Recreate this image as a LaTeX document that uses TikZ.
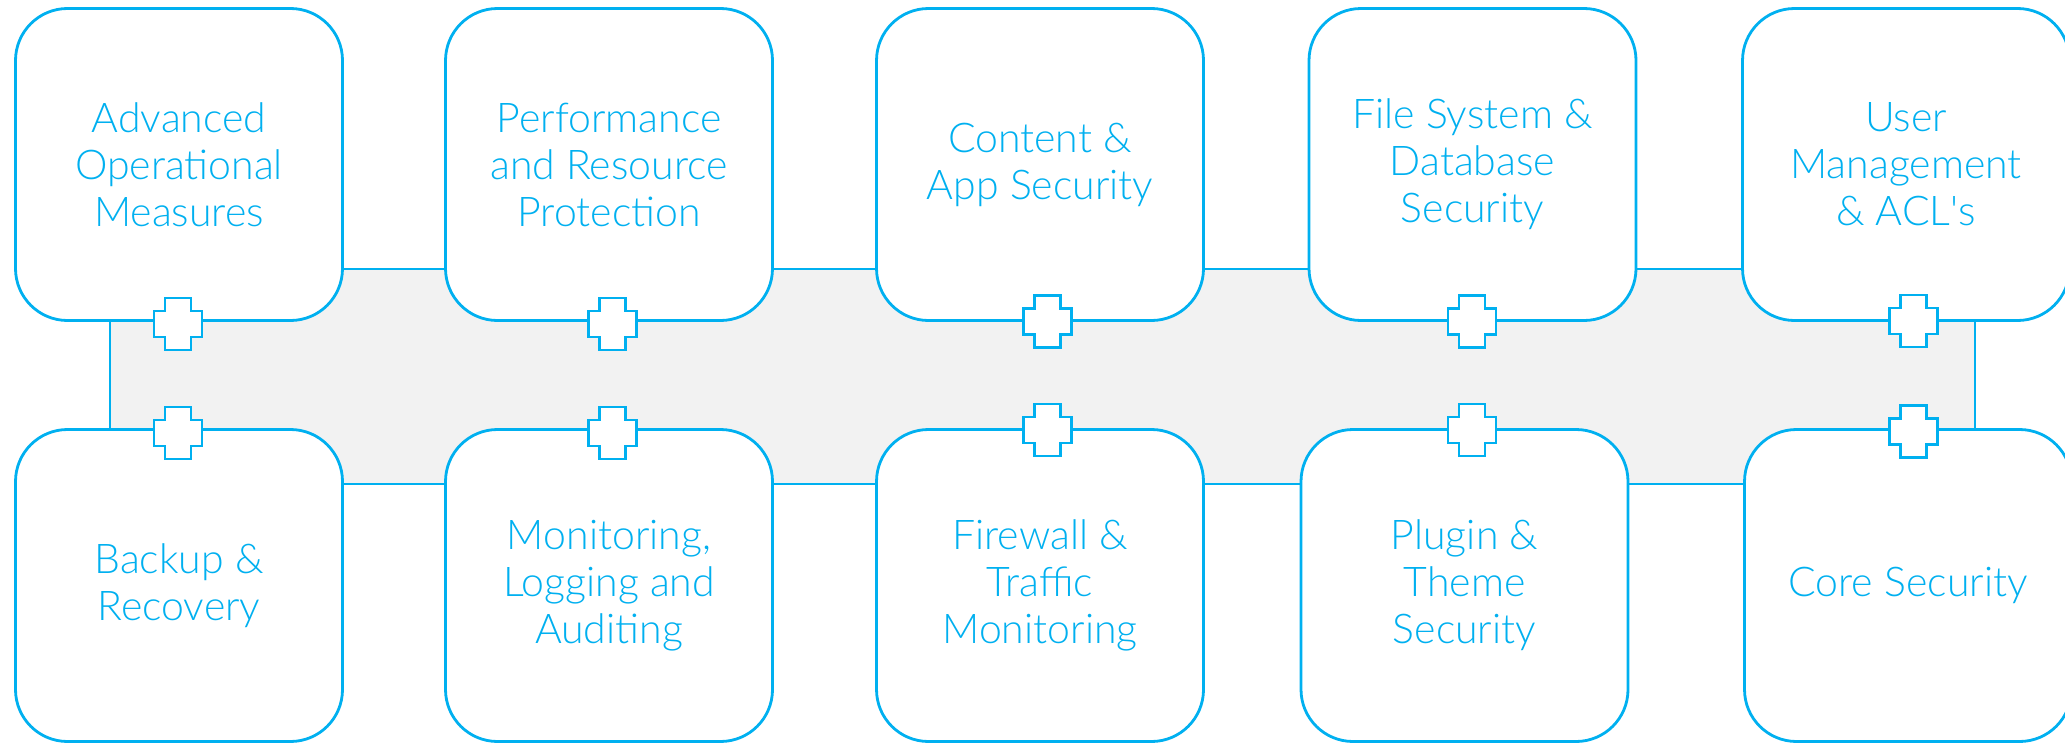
\documentclass[tikz,border=0pt]{standalone}
\usepackage{fontspec}
\setmainfont{Lato}[UprightFont=* Light]
\definecolor{guard}{RGB}{0,176,240}
\definecolor{band-gray}{RGB}{242,242,242}
\usetikzlibrary{
  positioning     % relative placement
}
\tikzset{
  topic/.style = {
    rectangle,
    draw = guard,
    fill = white,
    line width = 1.4pt,
    rounded corners = 26pt,
    minimum width = 163.5pt,
    minimum height = 156pt,
    inner sep = 0pt,
    align = center,
    text = guard,
    font = \fontsize{20.5}{23.5}\selectfont
  },
  band/.style = {draw = guard, fill = band-gray, line width = 1.4pt},
  joint/.pic = {
    \draw[draw = guard, fill = white, line width = 1.4pt]
      (-24,-13) -- (-13,-13) -- (-13,-26) -- (13,-26) -- (13,-13) -- (24,-13)
      -- (24,13) -- (13,13) -- (13,26) -- (-13,26) -- (-13,13) -- (-24,13) -- cycle;
  }
}
\pgfdeclarelayer{background}
\pgfsetlayers{background,main}

\begin{document}
\begin{tikzpicture}[x=0.5pt, y=-0.5pt]
\useasboundingbox (0,0) rectangle (2065,744);

% upper row
\node[topic] (advanced) at (179,164.5)    {Advanced\\Operational\\Measures};
\node[topic] (perf)     at (609,164.5)    {Performance\\and Resource\\Protection};
\node[topic] (content)  at (1040,164.5)   {Content \&\\App Security};
\node[topic] (filesys)  at (1472.5,164.5) {File System \&\\Database\\Security};
\node[topic] (users)    at (1906,164.5)   {User\\Management\\\& ACL\textquotesingle s};

% lower row
\node[topic] (backup)   at (179,585.5)    {Backup \&\\Recovery};
\node[topic] (monitor)  at (609,585.5)    {Monitoring,\\Logging and\\Auditing};
\node[topic] (firewall) at (1040,585.5)   {Firewall \&\\Traffic\\Monitoring};
\node[topic] (plugin)   at (1464.5,585.5) {Plugin \&\\Theme\\Security};
\node[topic] (core)     at (1908,585.5)   {Core Security};

% grey band behind the boxes
\begin{pgfonlayer}{background}
  \draw[band] (110,269) rectangle (1975,484);
\end{pgfonlayer}

% joints on the box edges
\pic at (178,324)    {joint};
\pic at (612.5,324)  {joint};
\pic at (1047.5,321.5) {joint};
\pic at (1472,321.5) {joint};
\pic at (1913.5,321) {joint};
\pic at (178,433)    {joint};
\pic at (612.5,433)  {joint};
\pic at (1047.5,430) {joint};
\pic at (1472,430)   {joint};
\pic at (1913.5,431.5) {joint};
\end{tikzpicture}
\end{document}
